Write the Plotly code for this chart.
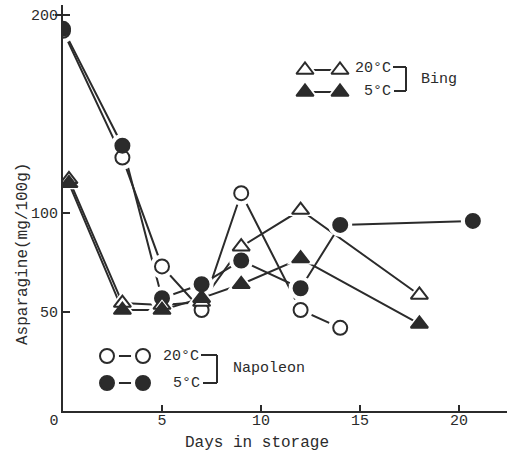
import plotly.graph_objects as go

# ---- data ----
nap20_days = [0, 3, 5, 7, 9, 12, 14]
nap20_vals = [192, 128, 73, 51, 110, 51, 42]
nap5_days = [0, 3, 5, 7, 9, 12, 14, 20.7]
nap5_vals = [193, 134, 57, 64, 76, 62, 94, 96]
bing20_days = [0.3, 3, 5, 7, 9, 12, 18]
bing20_vals = [117, 54.5, 53.5, 55, 83, 101.5, 58.6]
bing5_days = [0.3, 3, 5, 7, 9, 12, 18]
bing5_vals = [115, 51, 51, 57, 64, 77, 44]

x_ticks = [0, 5, 10, 15, 20]
x_ticktext = ["0  ", "5", "10", "15", "20"]
y_ticks = [50, 100, 200]

# ---- geometry helpers (pixel -> data) ----
W, H = 507, 454
ML, MR, MT, MB = 63, 0, 5, 43
PXX, PXY = 19.8, 1.98
XMAX = (W - ML - MR) / PXX
YMAX = (H - MT - MB) / PXY


def dx(px):
    return (px - ML) / PXX


def dy(py):
    return (H - MB - py) / PXY


INK = "#2b2b2b"
FONT = "Liberation Mono"

series = [
    dict(x=nap20_days, y=nap20_vals, sym="circle", fill="white"),
    dict(x=nap5_days, y=nap5_vals, sym="circle", fill=INK),
    dict(x=bing20_days, y=bing20_vals, sym="triangle-up", fill="white"),
    dict(x=bing5_days, y=bing5_vals, sym="triangle-up", fill=INK),
    # legend samples
    dict(x=[dx(305), dx(340)], y=[dy(70), dy(70)], sym="triangle-up", fill="white"),
    dict(x=[dx(305), dx(340)], y=[dy(92), dy(92)], sym="triangle-up", fill=INK),
    dict(x=[dx(107), dx(143)], y=[dy(356), dy(356)], sym="circle", fill="white"),
    dict(x=[dx(107), dx(143)], y=[dy(383), dy(383)], sym="circle", fill=INK),
]

fig = go.Figure()
for s in series:
    fig.add_trace(go.Scatter(x=s["x"], y=s["y"], mode="lines",
                             line=dict(color=INK, width=2), showlegend=False,
                             hoverinfo="skip"))
for s in series:
    fig.add_trace(go.Scatter(x=s["x"], y=s["y"], mode="markers",
                             marker=dict(symbol=s["sym"], size=24, color="white",
                                         line=dict(width=0)),
                             showlegend=False, hoverinfo="skip"))
for s in series:
    fig.add_trace(go.Scatter(x=s["x"], y=s["y"], mode="markers",
                             marker=dict(symbol=s["sym"], size=14 if s["sym"] == "circle" else 15,
                                         color=s["fill"],
                                         line=dict(color=INK, width=2)),
                             showlegend=False))

font = dict(family=FONT, size=15, color=INK)

ann = []
# legend texts
ann += [
    dict(x=dx(393), y=dy(68), text="20°C", xanchor="right", yanchor="middle"),
    dict(x=dx(393), y=dy(91), text="5°C", xanchor="right", yanchor="middle"),
    dict(x=dx(419), y=dy(79), text="Bing", xanchor="left", yanchor="middle"),
    dict(x=dx(201), y=dy(356), text="20°C", xanchor="right", yanchor="middle"),
    dict(x=dx(202), y=dy(383), text="5°C", xanchor="right", yanchor="middle"),
    dict(x=dx(231), y=dy(368), text="Napoleon", xanchor="left", yanchor="middle"),
]
for a in ann:
    a.update(xref="x", yref="y", showarrow=False, font=font)

# axis titles
ann.append(dict(xref="paper", yref="paper", x=(23 - ML) / (W - ML - MR),
                y=(H - MB - 254) / (H - MT - MB), text="Asparagine(mg/100g)",
                textangle=-90, showarrow=False, xanchor="center", yanchor="middle",
                font=dict(family=FONT, size=16, color=INK)))
ann.append(dict(xref="paper", yref="paper", x=(257 - ML) / (W - ML - MR),
                y=(H - MB - 443) / (H - MT - MB), text="Days in storage",
                showarrow=False, xanchor="center", yanchor="middle",
                font=dict(family=FONT, size=16, color=INK)))

shapes = []
bl = dict(color=INK, width=2)
for (x0, x1, xv, ytop, ybot, x2) in [(393, 406, 406, 67, 91, 394), (201, 217, 217, 355, 383, 203)]:
    shapes.append(dict(type="line", xref="x", yref="y", x0=dx(x0), x1=dx(x1), y0=dy(ytop), y1=dy(ytop), line=bl))
    shapes.append(dict(type="line", xref="x", yref="y", x0=dx(xv), x1=dx(xv), y0=dy(ytop), y1=dy(ybot), line=bl))
    shapes.append(dict(type="line", xref="x", yref="y", x0=dx(x2), x1=dx(x1), y0=dy(ybot), y1=dy(ybot), line=bl))
# left part of the 200 tick cross
shapes.append(dict(type="line", xref="paper", yref="y", x0=-8 / (W - ML - MR), x1=0,
                   y0=200, y1=200, line=bl))

fig.update_layout(
    width=W, height=H,
    margin=dict(l=ML, r=MR, t=MT, b=MB),
    paper_bgcolor="white", plot_bgcolor="white",
    font=font,
    annotations=ann, shapes=shapes,
    xaxis=dict(range=[0, XMAX], showline=True, linecolor=INK, linewidth=2,
               showgrid=False, zeroline=False, ticks="inside", ticklen=6,
               tickwidth=2, tickcolor=INK, tickvals=x_ticks, ticktext=x_ticktext,
               tickfont=font, ticklabelstandoff=-6),
    yaxis=dict(range=[0, YMAX], showline=True, linecolor=INK, linewidth=2,
               showgrid=False, zeroline=False, ticks="inside", ticklen=7,
               tickwidth=2, tickcolor=INK, tickvals=y_ticks, tickfont=font,
               ticklabelstandoff=0),
)

fig.write_html("out.html")
